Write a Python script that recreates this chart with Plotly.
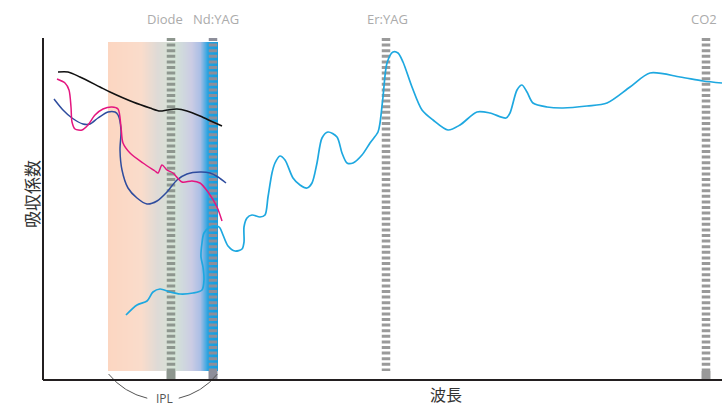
import numpy as np
import plotly.graph_objects as go

# ---------------- data (x: wavelength position, y: absorption, arbitrary units) ----------------
black_x = [15, 25, 37, 57, 67, 90, 107, 117, 124, 134, 144, 157, 170, 179]
black_y = [308, 308, 303, 293, 288, 278, 272, 269, 270, 271, 269, 264, 258, 254]

magenta_x = [14, 22, 26, 28, 29, 32, 39, 45, 52, 60, 69, 75, 78, 80, 87, 100, 112, 115, 119, 124,
             130, 139, 149, 157, 165, 174, 179]
magenta_y = [301, 297, 290, 273, 258, 251, 250, 255, 265, 271, 273, 271, 253, 237, 227, 217, 209, 207,
             215, 210, 207, 198, 199, 197, 188, 173, 159]

navy_x = [11, 20, 29, 40, 47, 55, 65, 72, 75, 78, 77, 79, 85, 94, 104, 114, 124, 134, 144, 157, 167, 175, 183]
navy_y = [281, 270, 262, 256, 256, 262, 268, 268, 265, 250, 230, 210, 192, 182, 176, 179, 188, 200, 206,
          208, 207, 203, 197]

water_x = [83, 94, 104, 110, 117, 127, 137, 150, 159, 161, 160, 158, 159, 161, 167, 174, 177, 180, 185,
           192, 199, 201, 201, 204, 209, 217, 222, 225, 229, 232, 237, 242, 250, 257, 264, 269, 274,
           279, 285, 294, 299, 304, 310, 319, 327, 335, 337, 340, 344, 350, 355, 360, 369, 379, 390,
           405, 417, 434, 447, 463, 467, 474, 479, 484, 490, 504, 520, 544, 564, 587, 607, 637, 660, 679]
water_y = [65, 75, 79, 88, 91, 88, 86, 87, 90, 100, 113, 123, 137, 147, 153, 154, 152, 145, 134,
           129, 131, 138, 153, 162, 165, 163, 165, 183, 207, 217, 224, 220, 202, 195, 192, 197, 217,
           242, 248, 243, 227, 217, 217, 225, 237, 248, 257, 283, 317, 328, 327, 318, 293, 270, 260,
           250, 255, 268, 267, 262, 267, 290, 295, 288, 277, 273, 272, 274, 277, 293, 307, 303, 299, 297]

laser_names = ["Diode", "Nd:YAG", "Er:YAG", "CO2"]
laser_x = [128, 170, 343, 663]
laser_label_x = [122, 173, 344, 661]
laser_colors = ["#8E978F", "#8D8E9A", "#9A9A9A", "#999999"]
laser_base = [True, True, False, True]

band_x0, band_x1 = 65, 175          # IPL band
band_y0, band_y1 = 9, 338
band_colors = [[0.0, "#FCD6C1"], [0.30, "#FADCCB"], [0.45, "#DEDAD6"], [0.60, "#D4E4D6"],
               [0.76, "#CBCCE4"], [0.84, "#A9BEE5"], [0.91, "#25A2E0"], [1.0, "#139DDF"]]

axis_top = 342
x_min, x_max = -43, 679
y_min, y_max = -26, 380

fig = go.Figure()

# IPL gradient band
nb = 220
edges = np.linspace(band_x0, band_x1, nb + 1)
fig.add_trace(go.Heatmap(x=edges, y=[band_y0, band_y1], z=[np.linspace(0, 1, nb)],
                         colorscale=band_colors, showscale=False, hoverinfo="skip", zsmooth=False))

# laser lines
half_w = 4.5
for name, lx, col, base in zip(laser_names, laser_x, laser_colors, laser_base):
    fig.add_trace(go.Scatter(x=[lx, lx], y=[axis_top, band_y0], mode="lines",
                             line=dict(color=col, width=8.5, dash="3px,2.6px"),
                             hoverinfo="skip", showlegend=False))
    if base:
        fig.add_shape(type="rect", x0=lx - half_w, x1=lx + half_w, y0=0, y1=band_y0,
                      fillcolor=col, line=dict(width=0), layer="below")

# absorption curves
curves = [(black_x, black_y, "#111111", 1.6),
          (navy_x, navy_y, "#2E4C9E", 1.5),
          (magenta_x, magenta_y, "#E4167F", 1.5),
          (water_x, water_y, "#1EA8E0", 1.7)]
for cx, cy, col, w in curves:
    fig.add_trace(go.Scatter(x=cx, y=cy, mode="lines", line=dict(color=col, width=w, shape="spline", smoothing=0.8),
                             hoverinfo="skip", showlegend=False))

# IPL bracket arc
arc_cx = (band_x0 + band_x1) / 2
arc_cy, arc_r = 50, 70
for a0, a1 in [(-141, -103), (-77, -39)]:
    t = np.radians(np.linspace(a0, a1, 40))
    fig.add_trace(go.Scatter(x=arc_cx + arc_r * np.cos(t), y=arc_cy + arc_r * np.sin(t), mode="lines",
                             line=dict(color="#555555", width=1), hoverinfo="skip", showlegend=False))

# axes lines
fig.add_shape(type="line", x0=0, x1=0, y0=0, y1=axis_top, line=dict(color="#231F20", width=2))
fig.add_shape(type="line", x0=0, x1=x_max, y0=0, y1=0, line=dict(color="#231F20", width=2))

# labels
for name, lx in zip(laser_names, laser_label_x):
    fig.add_annotation(x=lx, y=361.5, text=name, showarrow=False,
                       font=dict(family="Open Sans", size=13, color="#ABABAB"))
fig.add_annotation(x=arc_cx + 1, y=-18.5, text="IPL", showarrow=False, borderpad=0,
                   font=dict(family="Open Sans", size=12, color="#555555"))
fig.add_annotation(x=-12, y=186, text="吸収係数", textangle=-90, showarrow=False,
                   font=dict(family="Noto Sans CJK JP", size=17, color="#333333"))
fig.add_annotation(x=403, y=-14, text="波長", showarrow=False, borderpad=0,
                   font=dict(family="Noto Sans CJK JP", size=16, color="#333333"))

fig.update_layout(width=722, height=406, margin=dict(l=0, r=0, t=0, b=0),
                  paper_bgcolor="white", plot_bgcolor="white", showlegend=False,
                  xaxis=dict(range=[x_min, x_max], visible=False, fixedrange=True),
                  yaxis=dict(range=[y_min, y_max], visible=False, fixedrange=True))

fig.write_html("out.html", config={"displayModeBar": False},
               post_script="document.body.style.margin='0px';document.body.style.overflow='hidden';")
